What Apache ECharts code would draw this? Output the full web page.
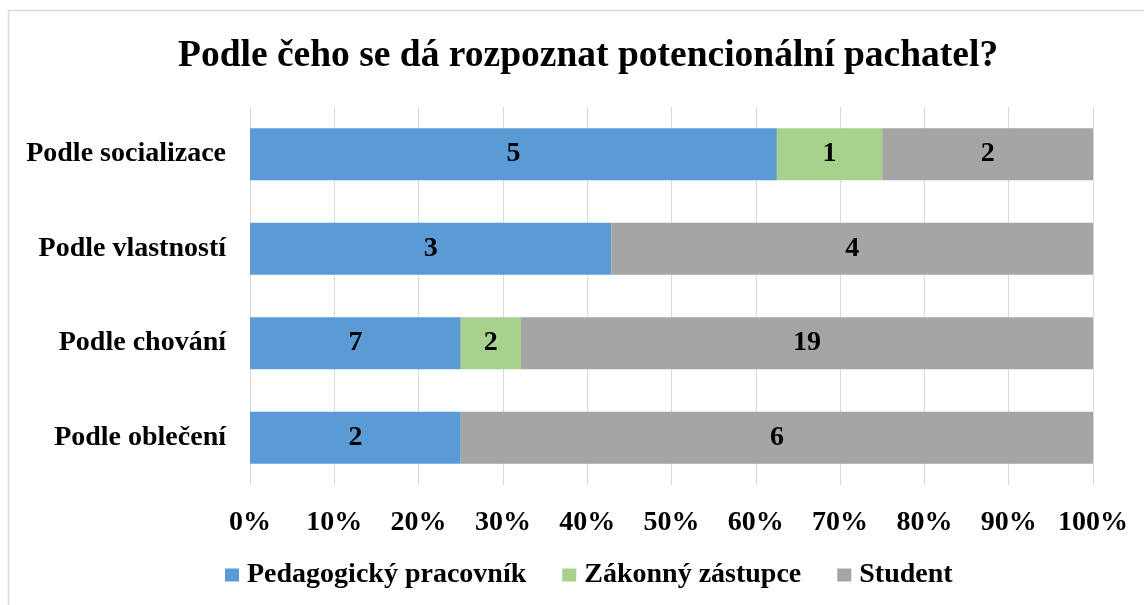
<!DOCTYPE html>
<html>
<head>
<meta charset="utf-8">
<script src="https://cdn.jsdelivr.net/npm/echarts@6/dist/echarts.min.js"></script>
<style>
  html, body { margin: 0; padding: 0; background: #fff; }
  #chart { width: 1144px; height: 605px; }
</style>
</head>
<body>
<div id="chart"></div>
<script>
var categories = ['Podle oblečení', 'Podle chování', 'Podle vlastností', 'Podle socializace'];
var seriesNames = ['Pedagogický pracovník', 'Zákonný zástupce', 'Student'];
var pedagog = [2, 7, 3, 5];
var zastupce = [0, 2, 0, 1];
var student = [6, 19, 4, 2];
var colors = ['#5B9BD5', '#A9D18E', '#A5A5A5'];

var counts = [pedagog, zastupce, student];
var totals = categories.map(function (c, i) {
  return pedagog[i] + zastupce[i] + student[i];
});

var font = '"Liberation Serif", "Times New Roman", serif';

var myChart = echarts.init(document.getElementById('chart'));
var option = {
  animation: false,
  backgroundColor: '#fff',
  title: {
    text: 'Podle čeho se dá rozpoznat potencionální pachatel?',
    left: 173,
    top: 32,
    textStyle: { fontFamily: font, fontWeight: 'bold', fontSize: 37.5, color: '#000' }
  },
  legend: {
    bottom: 11,
    left: 220,
    itemWidth: 14,
    itemHeight: 13,
    itemGap: 36,
    icon: 'rect',
    textStyle: { fontFamily: font, fontWeight: 'bold', fontSize: 28, color: '#000', padding: [0, 0, 0, 3] },
    data: seriesNames
  },
  graphic: [{
    type: 'rect',
    shape: { x: 8.5, y: 10.5, width: 1140, height: 600 },
    style: { fill: 'none', stroke: '#d9d9d9', lineWidth: 1.5 },
    silent: true
  }],
  grid: { left: 250, right: 51, top: 107, bottom: 120 },
  xAxis: {
    type: 'value',
    min: 0,
    max: 1,
    interval: 0.1,
    axisLine: { show: false },
    axisTick: { show: false },
    splitLine: { show: true, lineStyle: { color: '#d9d9d9', width: 1 } },
    axisLabel: {
      margin: 24,
      fontFamily: font,
      fontWeight: 'bold',
      fontSize: 28,
      color: '#000',
      formatter: function (v) { return Math.round(v * 100) + '%'; }
    }
  },
  yAxis: {
    type: 'category',
    data: categories,
    axisLine: { show: false },
    axisTick: { show: false },
    axisLabel: {
      margin: 24,
      fontFamily: font,
      fontWeight: 'bold',
      fontSize: 28,
      color: '#000'
    }
  },
  series: seriesNames.map(function (name, s) {
    return {
      name: name,
      type: 'bar',
      stack: 'total',
      barWidth: 52,
      itemStyle: { color: colors[s] },
      label: {
        show: true,
        position: 'inside',
        fontFamily: font,
        fontWeight: 'bold',
        fontSize: 28,
        color: '#000',
        formatter: function (p) { return counts[s][p.dataIndex]; }
      },
      data: counts[s].map(function (v, i) {
        return v === 0 ? { value: 0, label: { show: false } } : v / totals[i];
      })
    };
  })
};
myChart.setOption(option);
</script>
</body>
</html>
